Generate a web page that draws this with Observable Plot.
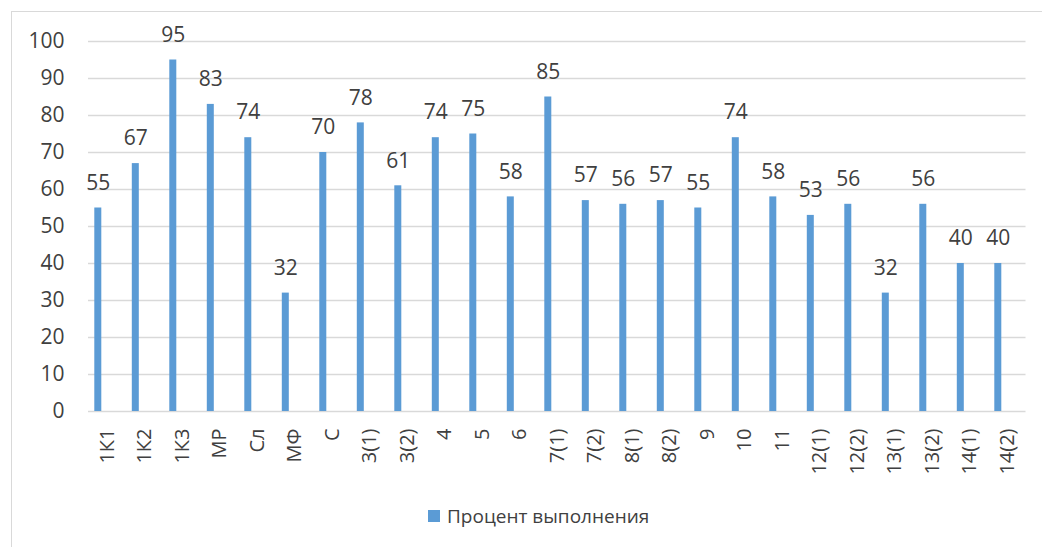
<!DOCTYPE html>
<html><head><meta charset="utf-8">
<script src="https://cdn.jsdelivr.net/npm/d3@7"></script>
<script src="https://cdn.jsdelivr.net/npm/@observablehq/plot@0.6"></script>
<style>
html,body{margin:0;padding:0;background:#fff;}
#wrap{position:relative;width:1042px;height:547px;overflow:hidden;font-family:"Open Sans",sans-serif;}
#frame{position:absolute;left:11px;top:11px;width:1100px;height:600px;border:1.5px solid #d9d9d9;box-sizing:border-box;}
#chart{position:absolute;left:0;top:0;}
#legend{position:absolute;left:428px;top:503px;display:flex;align-items:center;font-size:19px;color:#404040;}
#legend span.sw{display:inline-block;width:12px;height:12px;background:#5B9BD5;margin-right:7px;}
</style></head>
<body><div id="wrap"><div id="frame"></div><div id="chart"></div>
<div id="legend"><span class="sw"></span><span>Процент выполнения</span></div></div>
<script>
const categories = ["1К1","1К2","1К3","МР","Сл","МФ","С","3(1)","3(2)","4","5","6","7(1)","7(2)","8(1)","8(2)","9","10","11","12(1)","12(2)","13(1)","13(2)","14(1)","14(2)"];
const values = [55,67,95,83,74,32,70,78,61,74,75,58,85,57,56,57,55,74,58,53,56,32,56,40,40];
const yTicks = [0,10,20,30,40,50,60,70,80,90,100];
const seriesName = "Процент выполнения";

const data = categories.map((c,i)=>({cat:c, value:values[i]}));

const chart = Plot.plot({
  width: 1042, height: 547,
  marginLeft: 88, marginRight: 16.5, marginTop: 41, marginBottom: 136,
  style: {fontFamily: '"Open Sans", sans-serif', fontSize: "21px", color: "#404040", background: "transparent"},
  x: {domain: categories, padding: 0, round: false, label: null},
  y: {domain: [0,100], ticks: yTicks, label: null},
  marks: [
    Plot.ruleY(yTicks, {stroke: "#d9d9d9", strokeWidth: 1.5}),
    Plot.barY(data, {x: "cat", y: "value", fill: "#5B9BD5", insetLeft: 6.3, insetRight: 24.2}),
    Plot.text(data, {x: "cat", y: "value", text: d => String(d.value), dx: -9.1, dy: -25, lineAnchor: "middle", fontSize: 21, fill: "#404040"}),
    Plot.axisY({ticks: yTicks, tickSize: 0, tickPadding: 24, fontSize: 21, fill: "#404040", label: null}),
    Plot.axisX({tickSize: 0, tickPadding: 17, tickRotate: -90, fontSize: 20, fill: "#404040", label: null})
  ]
});
document.getElementById("chart").appendChild(chart);
</script></body></html>
